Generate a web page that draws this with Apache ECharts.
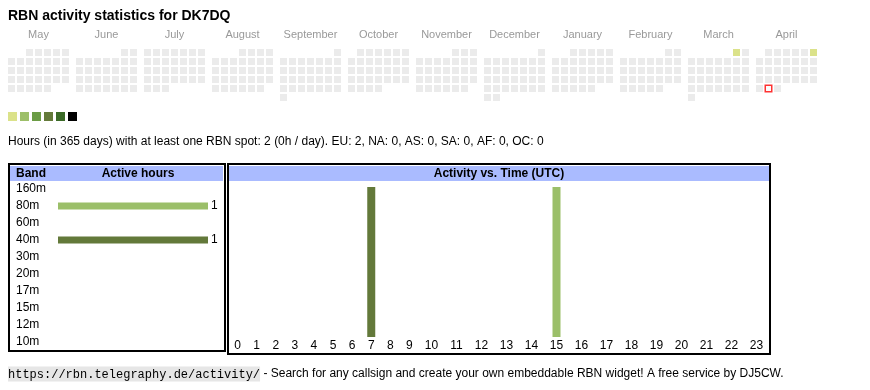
<!DOCTYPE html>
<html><head><meta charset="utf-8">
<script src="https://cdn.jsdelivr.net/npm/echarts@6/dist/echarts.min.js"></script>
<style>html,body{margin:0;padding:0;background:#fff}#c{width:870px;height:390px}</style>
</head><body><div id="c"></div>
<script>
// ---- data ----
const titleText = 'RBN activity statistics for DK7DQ';
const months = ['2024-05','2024-06','2024-07','2024-08','2024-09','2024-10','2024-11','2024-12','2025-01','2025-02','2025-03','2025-04'];
const monthNames = ['May','June','July','August','September','October','November','December','January','February','March','April'];
const activeDays = [['2025-03-01', 1], ['2025-04-06', 1]];
const todayDate = '2025-04-29';
const legendLevels = [1, 2, 3, 4, 5, 6];
const statsText = 'Hours (in 365 days) with at least one RBN spot: 2 (0h / day). EU: 2, NA: 0, AS: 0, SA: 0, AF: 0, OC: 0';
const bands = ['160m','80m','60m','40m','30m','20m','17m','15m','12m','10m'];
const bandHours = [0, 1, 0, 1, 0, 0, 0, 0, 0, 0];
const hourLabels = ['0','1','2','3','4','5','6','7','8','9','10','11','12','13','14','15','16','17','18','19','20','21','22','23'];
const hours80m = [0,0,0,0,0,0,0,0,0,0,0,0,0,0,0,1,0,0,0,0,0,0,0,0];
const hours40m = [0,0,0,0,0,0,0,1,0,0,0,0,0,0,0,0,0,0,0,0,0,0,0,0];
const footerUrl = 'https://rbn.telegraphy.de/activity/';
const footerText = ' - Search for any callsign and create your own embeddable RBN widget! A free service by DJ5CW.';

// ---- styles ----
const FONT = "Arial, 'Liberation Sans', sans-serif";
const legendColors = ['#dbe28a', '#9dbf69', '#6b9c45', '#647a3a', '#3b6a27', '#000000'];
const bandColors = { '80m': '#9bbf69', '40m': '#63793a' };
const headerBlue = '#aabbff';

const chart = echarts.init(document.getElementById('c'), null, { renderer: 'canvas' });

const calendars = months.map((m, i) => ({
  orient: 'vertical',
  range: m,
  left: 7 + 68 * i,
  top: 48,
  cellSize: [9, 9],
  splitLine: { show: false },
  dayLabel: { show: false, firstDay: 1 },
  monthLabel: { show: false },
  yearLabel: { show: false },
  itemStyle: { color: '#ebebeb', borderColor: '#fff', borderWidth: 2 }
}));

const series = [];
months.forEach((m, i) => {
  const d = activeDays.filter(a => a[0].slice(0, 7) === m);
  if (d.length) {
    series.push({
      type: 'heatmap', coordinateSystem: 'calendar', calendarIndex: i,
      data: d, silent: true
    });
  }
});
const heatIdx = series.map((s, i) => i);
const todayCal = months.indexOf(todayDate.slice(0, 7));
series.push({
  type: 'scatter', coordinateSystem: 'calendar', calendarIndex: todayCal,
  data: [[todayDate, 0]], symbol: 'rect', symbolSize: 6.5, silent: true,
  itemStyle: { color: '#fff', borderColor: '#ff0000', borderWidth: 1.5 }
});

// band chart
series.push({
  type: 'bar', xAxisIndex: 0, yAxisIndex: 0, barWidth: 7, silent: true,
  data: bandHours.map((v, i) => ({ value: v, itemStyle: { color: bandColors[bands[i]] || '#999' } })),
  label: { show: true, position: 'right', distance: 3, color: '#000', fontSize: 12, fontFamily: FONT,
    formatter: p => p.value ? String(p.value) : '' }
});
// hour charts (two table-column groups)
const split = 10;
[[0, split], [split, 24]].forEach((r, gi) => {
  const ax = gi + 1;
  series.push({ type: 'bar', stack: 'h' + ax, xAxisIndex: ax, yAxisIndex: ax, barWidth: 8, silent: true,
    data: hours40m.slice(r[0], r[1]), itemStyle: { color: bandColors['40m'] } });
  series.push({ type: 'bar', stack: 'h' + ax, xAxisIndex: ax, yAxisIndex: ax, barWidth: 8, silent: true,
    data: hours80m.slice(r[0], r[1]), itemStyle: { color: bandColors['80m'] } });
});

const hourAxis = (cats) => ({
  type: 'category', data: cats,
  axisLine: { show: false }, axisTick: { show: false }, splitLine: { show: false },
  axisLabel: { color: '#000', fontSize: 12, fontFamily: FONT, margin: 3, interval: 0 }
});

const graphics = [
  { type: 'text', left: 8, top: 9, style: { text: titleText, font: 'bold 14px ' + FONT, fill: '#000' } },
  { type: 'text', left: 8, top: 136, style: { text: statsText, font: '12px ' + FONT, fill: '#000' } },
  // left box
  { type: 'rect', shape: { x: 10, y: 166, width: 213, height: 15 }, style: { fill: headerBlue }, z: 1 },
  { type: 'rect', shape: { x: 9, y: 164, width: 216, height: 187 }, style: { fill: null, stroke: '#000', lineWidth: 2 }, z: 10 },
  { type: 'text', x: 16, y: 173.5, style: { text: 'Band', font: 'bold 12px ' + FONT, fill: '#000', textVerticalAlign: 'middle' }, z: 11 },
  { type: 'text', x: 138, y: 173.5, style: { text: 'Active hours', font: 'bold 12px ' + FONT, fill: '#000', textAlign: 'center', textVerticalAlign: 'middle' }, z: 11 },
  // right box
  { type: 'rect', shape: { x: 229, y: 166, width: 540, height: 15 }, style: { fill: headerBlue }, z: 1 },
  { type: 'rect', shape: { x: 228, y: 164, width: 542, height: 190 }, style: { fill: null, stroke: '#000', lineWidth: 2 }, z: 10 },
  { type: 'text', x: 499, y: 173.5, style: { text: 'Activity vs. Time (UTC)', font: 'bold 12px ' + FONT, fill: '#000', textAlign: 'center', textVerticalAlign: 'middle' }, z: 11 },
  // footer
  { type: 'text', x: 8, y: 374, style: {
      text: '{c|' + footerUrl + '}{t|' + footerText + '}', textVerticalAlign: 'middle',
      rich: {
        c: { fontFamily: "'Liberation Mono', 'DejaVu Sans Mono', monospace", fontSize: 12, color: '#555', backgroundColor: '#e6e6e6', padding: [2, 0, 1, 0] },
        t: { fontFamily: FONT, fontSize: 12, color: '#000' }
      } } }
];
monthNames.forEach((n, i) => {
  graphics.push({ type: 'text', x: 38.5 + 68 * i, y: 35, style: { text: n, font: '11px ' + FONT, fill: '#999', textAlign: 'center', textVerticalAlign: 'middle' } });
});

chart.setOption({
  animation: false,
  backgroundColor: '#fff',
  calendar: calendars,
  visualMap: {
    type: 'piecewise', seriesIndex: heatIdx, orient: 'horizontal',
    left: 8, top: 112, padding: 0, itemWidth: 9, itemHeight: 9, itemGap: 3,
    itemSymbol: 'rect', showLabel: false, selectedMode: false, hoverLink: false,
    pieces: legendLevels.map((v, i) => ({ value: v, color: legendColors[i] }))
  },
  grid: [
    { left: 58, top: 180.5, width: 150, height: 170 },
    { left: 228, top: 187, width: 191, height: 150 },
    { left: 419, top: 187, width: 350, height: 150 }
  ],
  xAxis: [
    { type: 'value', min: 0, max: 1, show: false, gridIndex: 0 },
    Object.assign(hourAxis(hourLabels.slice(0, split)), { gridIndex: 1 }),
    Object.assign(hourAxis(hourLabels.slice(split)), { gridIndex: 2 })
  ],
  yAxis: [
    { type: 'category', data: bands, inverse: true, gridIndex: 0,
      axisLine: { show: false }, axisTick: { show: false }, splitLine: { show: false },
      axisLabel: { align: 'left', margin: 42, color: '#000', fontSize: 12, fontFamily: FONT } },
    { type: 'value', min: 0, max: 1, show: false, gridIndex: 1 },
    { type: 'value', min: 0, max: 1, show: false, gridIndex: 2 }
  ],
  series: series,
  graphic: graphics
});
</script></body></html>
